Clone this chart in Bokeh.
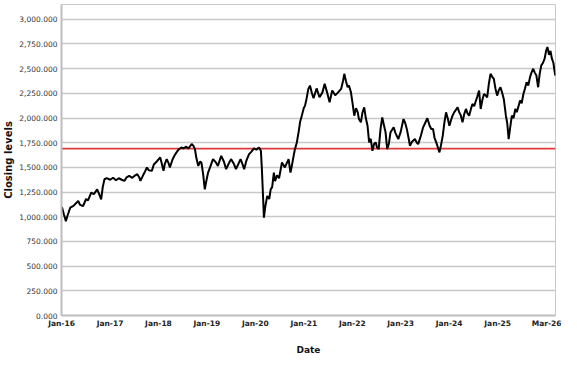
import pandas as pd
from bokeh.plotting import figure
from bokeh.models import Span, FixedTicker, NumeralTickFormatter, Range1d
from bokeh.embed import file_html
from bokeh.resources import INLINE

# ---- data ----
dates = [
    "2016-01-04", "2016-01-20", "2016-02-03", "2016-02-15", "2016-03-07", "2016-03-31",
    "2016-04-21", "2016-05-06", "2016-05-20", "2016-06-12", "2016-07-04", "2016-07-19",
    "2016-08-12", "2016-09-01", "2016-09-26", "2016-10-08", "2016-10-26", "2016-11-07",
    "2016-11-20", "2016-12-07", "2017-01-02", "2017-01-24", "2017-02-15", "2017-03-08",
    "2017-03-30", "2017-04-19", "2017-05-06", "2017-05-25", "2017-06-18", "2017-07-10",
    "2017-07-25", "2017-08-09", "2017-08-18", "2017-09-07", "2017-09-22", "2017-10-06",
    "2017-10-21", "2017-11-12", "2017-11-27", "2017-12-19", "2018-01-14", "2018-01-26",
    "2018-02-08", "2018-02-17", "2018-03-04", "2018-03-19", "2018-03-28", "2018-04-17",
    "2018-05-02", "2018-05-17", "2018-06-01", "2018-06-23", "2018-07-08", "2018-07-30",
    "2018-08-14", "2018-09-08", "2018-09-21", "2018-10-03", "2018-10-13", "2018-10-28",
    "2018-11-12", "2018-11-21", "2018-12-04", "2018-12-16", "2018-12-26", "2019-01-10",
    "2019-01-25", "2019-02-16", "2019-03-10", "2019-03-25", "2019-04-19", "2019-05-09",
    "2019-05-26", "2019-06-15", "2019-07-02", "2019-07-22", "2019-08-08", "2019-08-28",
    "2019-09-12", "2019-09-27", "2019-10-09", "2019-10-26", "2019-11-15", "2019-12-03",
    "2019-12-22", "2020-01-09", "2020-01-29", "2020-02-12", "2020-02-19", "2020-02-27",
    "2020-03-06", "2020-03-16", "2020-03-31", "2020-04-15", "2020-04-26", "2020-05-07",
    "2020-05-20", "2020-05-29", "2020-06-13", "2020-06-28", "2020-07-20", "2020-08-11",
    "2020-09-08", "2020-09-22", "2020-10-03", "2020-10-16", "2020-10-25", "2020-11-09",
    "2020-11-24", "2020-12-03", "2020-12-16", "2020-12-31", "2021-01-10", "2021-01-22",
    "2021-02-04", "2021-02-16", "2021-03-01", "2021-03-15", "2021-04-07", "2021-04-29",
    "2021-05-21", "2021-06-07", "2021-06-27", "2021-07-14", "2021-08-03", "2021-08-25",
    "2021-09-16", "2021-10-09", "2021-10-24", "2021-11-02", "2021-11-15", "2021-11-27",
    "2021-12-07", "2021-12-22", "2022-01-03", "2022-01-16", "2022-01-29", "2022-02-11",
    "2022-02-20", "2022-03-07", "2022-03-18", "2022-04-01", "2022-04-13", "2022-04-26",
    "2022-05-08", "2022-05-20", "2022-06-02", "2022-06-15", "2022-06-27", "2022-07-07",
    "2022-07-19", "2022-08-03", "2022-08-15", "2022-08-29", "2022-09-09", "2022-09-21",
    "2022-10-04", "2022-10-16", "2022-11-09", "2022-11-22", "2022-12-14", "2023-01-01",
    "2023-01-22", "2023-02-04", "2023-02-16", "2023-03-01", "2023-03-12", "2023-03-27",
    "2023-04-18", "2023-05-03", "2023-05-13", "2023-06-02", "2023-06-19", "2023-07-01",
    "2023-07-21", "2023-08-07", "2023-08-20", "2023-09-02", "2023-09-13", "2023-09-26",
    "2023-10-09", "2023-10-20", "2023-10-31", "2023-11-14", "2023-11-26", "2023-12-09",
    "2023-12-21", "2024-01-03", "2024-01-18", "2024-01-27", "2024-02-09", "2024-02-20",
    "2024-03-05", "2024-03-17", "2024-03-30", "2024-04-11", "2024-04-24", "2024-05-07",
    "2024-05-18", "2024-05-31", "2024-06-13", "2024-06-25", "2024-07-08", "2024-07-20",
    "2024-08-01", "2024-08-14", "2024-08-26", "2024-09-07", "2024-09-20", "2024-10-02",
    "2024-10-14", "2024-10-27", "2024-11-08", "2024-11-20", "2024-12-03", "2024-12-15",
    "2024-12-28", "2025-01-09", "2025-01-22", "2025-02-03", "2025-02-16", "2025-02-25",
    "2025-03-04", "2025-03-14", "2025-03-25", "2025-04-05", "2025-04-18", "2025-05-01",
    "2025-05-14", "2025-05-25", "2025-06-07", "2025-06-19", "2025-07-01", "2025-07-14",
    "2025-07-26", "2025-08-07", "2025-08-20", "2025-09-02", "2025-09-13", "2025-09-26",
    "2025-10-08", "2025-10-20", "2025-11-02", "2025-11-14", "2025-11-26", "2025-12-09",
    "2025-12-21", "2026-01-01", "2026-01-11", "2026-01-23", "2026-02-03", "2026-02-14",
    "2026-02-25", "2026-03-07", "2026-03-12",
]
closing = [
    1100, 1020, 956, 1010, 1092, 1110,
    1140, 1160, 1120, 1109, 1180, 1165,
    1245, 1230, 1278, 1240, 1177, 1300,
    1380, 1392, 1375, 1395, 1370, 1390,
    1375, 1363, 1400, 1414, 1395, 1420,
    1431, 1400, 1363, 1420, 1460, 1499,
    1470, 1465, 1530, 1560, 1601, 1540,
    1465, 1530, 1584, 1540, 1499, 1580,
    1620, 1652, 1680, 1702, 1692, 1710,
    1690, 1736, 1720, 1685, 1600, 1515,
    1560, 1548, 1430, 1278, 1350, 1448,
    1500, 1584, 1550, 1515, 1617, 1560,
    1482, 1540, 1584, 1540, 1482, 1540,
    1584, 1530, 1482, 1570, 1634, 1660,
    1692, 1680, 1702, 1668, 1500, 1250,
    991, 1100, 1210, 1180, 1278, 1300,
    1448, 1360, 1420, 1390, 1550, 1500,
    1584, 1448, 1520, 1617, 1680, 1753,
    1870, 1957, 2020, 2100, 2126, 2200,
    2295, 2329, 2260, 2200, 2300, 2210,
    2260, 2346, 2250, 2160, 2280, 2230,
    2260, 2295, 2380, 2448, 2370, 2312,
    2330, 2261, 2150, 2024, 2100, 2060,
    1990, 1957, 2050, 2109, 2000, 1922,
    1753, 1790, 1668, 1740, 1753, 1700,
    1685, 1900, 2007, 1920, 1855, 1685,
    1740, 1855, 1906, 1850, 1787, 1860,
    1990, 1950, 1890, 1800, 1719, 1760,
    1787, 1750, 1736, 1820, 1906, 1940,
    1998, 1922, 1890, 1888, 1800, 1753,
    1700, 1652, 1720, 1820, 1950, 2058,
    2000, 1922, 1990, 2024, 2060, 2080,
    2109, 2060, 2024, 1957, 2040, 2092,
    2050, 2024, 2090, 2143, 2120, 2170,
    2220, 2278, 2092, 2180, 2244, 2230,
    2210, 2350, 2448, 2420, 2397, 2300,
    2227, 2280, 2312, 2260, 2193, 2100,
    2024, 1950, 1787, 1900, 2024, 2000,
    2092, 2060, 2120, 2177, 2150, 2244,
    2300, 2363, 2330, 2414, 2460, 2499,
    2460, 2431, 2312, 2450, 2533, 2560,
    2601, 2680, 2719, 2640, 2680, 2601,
    2560, 2465, 2430,
]
average_level = 1690
x_tick_dates = ["2016-01-01", "2017-01-01", "2018-01-01", "2019-01-01", "2020-01-01",
                "2021-01-01", "2022-01-01", "2023-01-01", "2024-01-01", "2025-01-01",
                "2026-02-18"]
x_tick_labels = ["Jan-16", "Jan-17", "Jan-18", "Jan-19", "Jan-20", "Jan-21",
                 "Jan-22", "Jan-23", "Jan-24", "Jan-25", "Mar-26"]
y_ticks = [0, 250, 500, 750, 1000, 1250, 1500, 1750, 2000, 2250, 2500, 2750, 3000]
x_title = "Date"
y_title = "Closing levels"

dt = pd.to_datetime(dates)
x_start = pd.Timestamp("2016-01-01")
x_end = pd.Timestamp("2026-03-13")

p = figure(width=561, height=357, x_axis_type="datetime",
           output_backend="svg", toolbar_location=None,
           x_range=Range1d(x_start, x_end),
           y_range=Range1d(0, 3150),
           min_border_left=0, min_border_right=6, min_border_top=4, min_border_bottom=0)

p.outline_line_color = "#c8c8c8"
p.outline_line_width = 1
p.background_fill_color = "white"
p.border_fill_color = "white"

p.xgrid.grid_line_color = None
p.ygrid.grid_line_color = "#c8c8c8"
p.ygrid.grid_line_width = 1.3

tick_ms = [pd.Timestamp(d).value / 1e6 for d in x_tick_dates]
p.xaxis.ticker = FixedTicker(ticks=tick_ms)
p.xaxis.major_label_overrides = {t: lab for t, lab in zip(tick_ms, x_tick_labels)}
p.yaxis.ticker = FixedTicker(ticks=y_ticks)
p.yaxis.formatter = NumeralTickFormatter(format="0,0.000")

for ax in (p.xaxis[0], p.yaxis[0]):
    ax.axis_line_color = "#bdbdbd"
    ax.axis_line_width = 2
    ax.major_tick_out = 0
    ax.major_tick_in = 0
    ax.minor_tick_out = 0
    ax.minor_tick_in = 0
    ax.major_label_text_font = "DejaVu Sans"
    ax.axis_label_text_font = "DejaVu Sans"
    ax.axis_label_text_font_style = "bold"
    ax.axis_label_text_color = "#111111"

p.yaxis.major_label_text_font_size = "7.5px"
p.yaxis.major_label_text_color = "#333333"
p.yaxis.major_label_standoff = 4
p.yaxis.axis_label = y_title
p.yaxis.axis_label_text_font_size = "10px"
p.yaxis.axis_label_standoff = 2

p.xaxis.major_label_text_font_size = "7.5px"
p.xaxis.major_label_text_font_style = "bold"
p.xaxis.major_label_text_color = "#222222"
p.xaxis.major_label_standoff = 3
p.xaxis.axis_label = x_title
p.xaxis.axis_label_text_font_size = "9px"
p.xaxis.axis_label_standoff = 14

span = Span(location=average_level, dimension="width", line_color="#e0393b",
            line_width=1.6, level="underlay")
p.add_layout(span)

p.line(dt, closing, line_color="black", line_width=2)

open("out.html", "w").write(file_html(p, INLINE))
